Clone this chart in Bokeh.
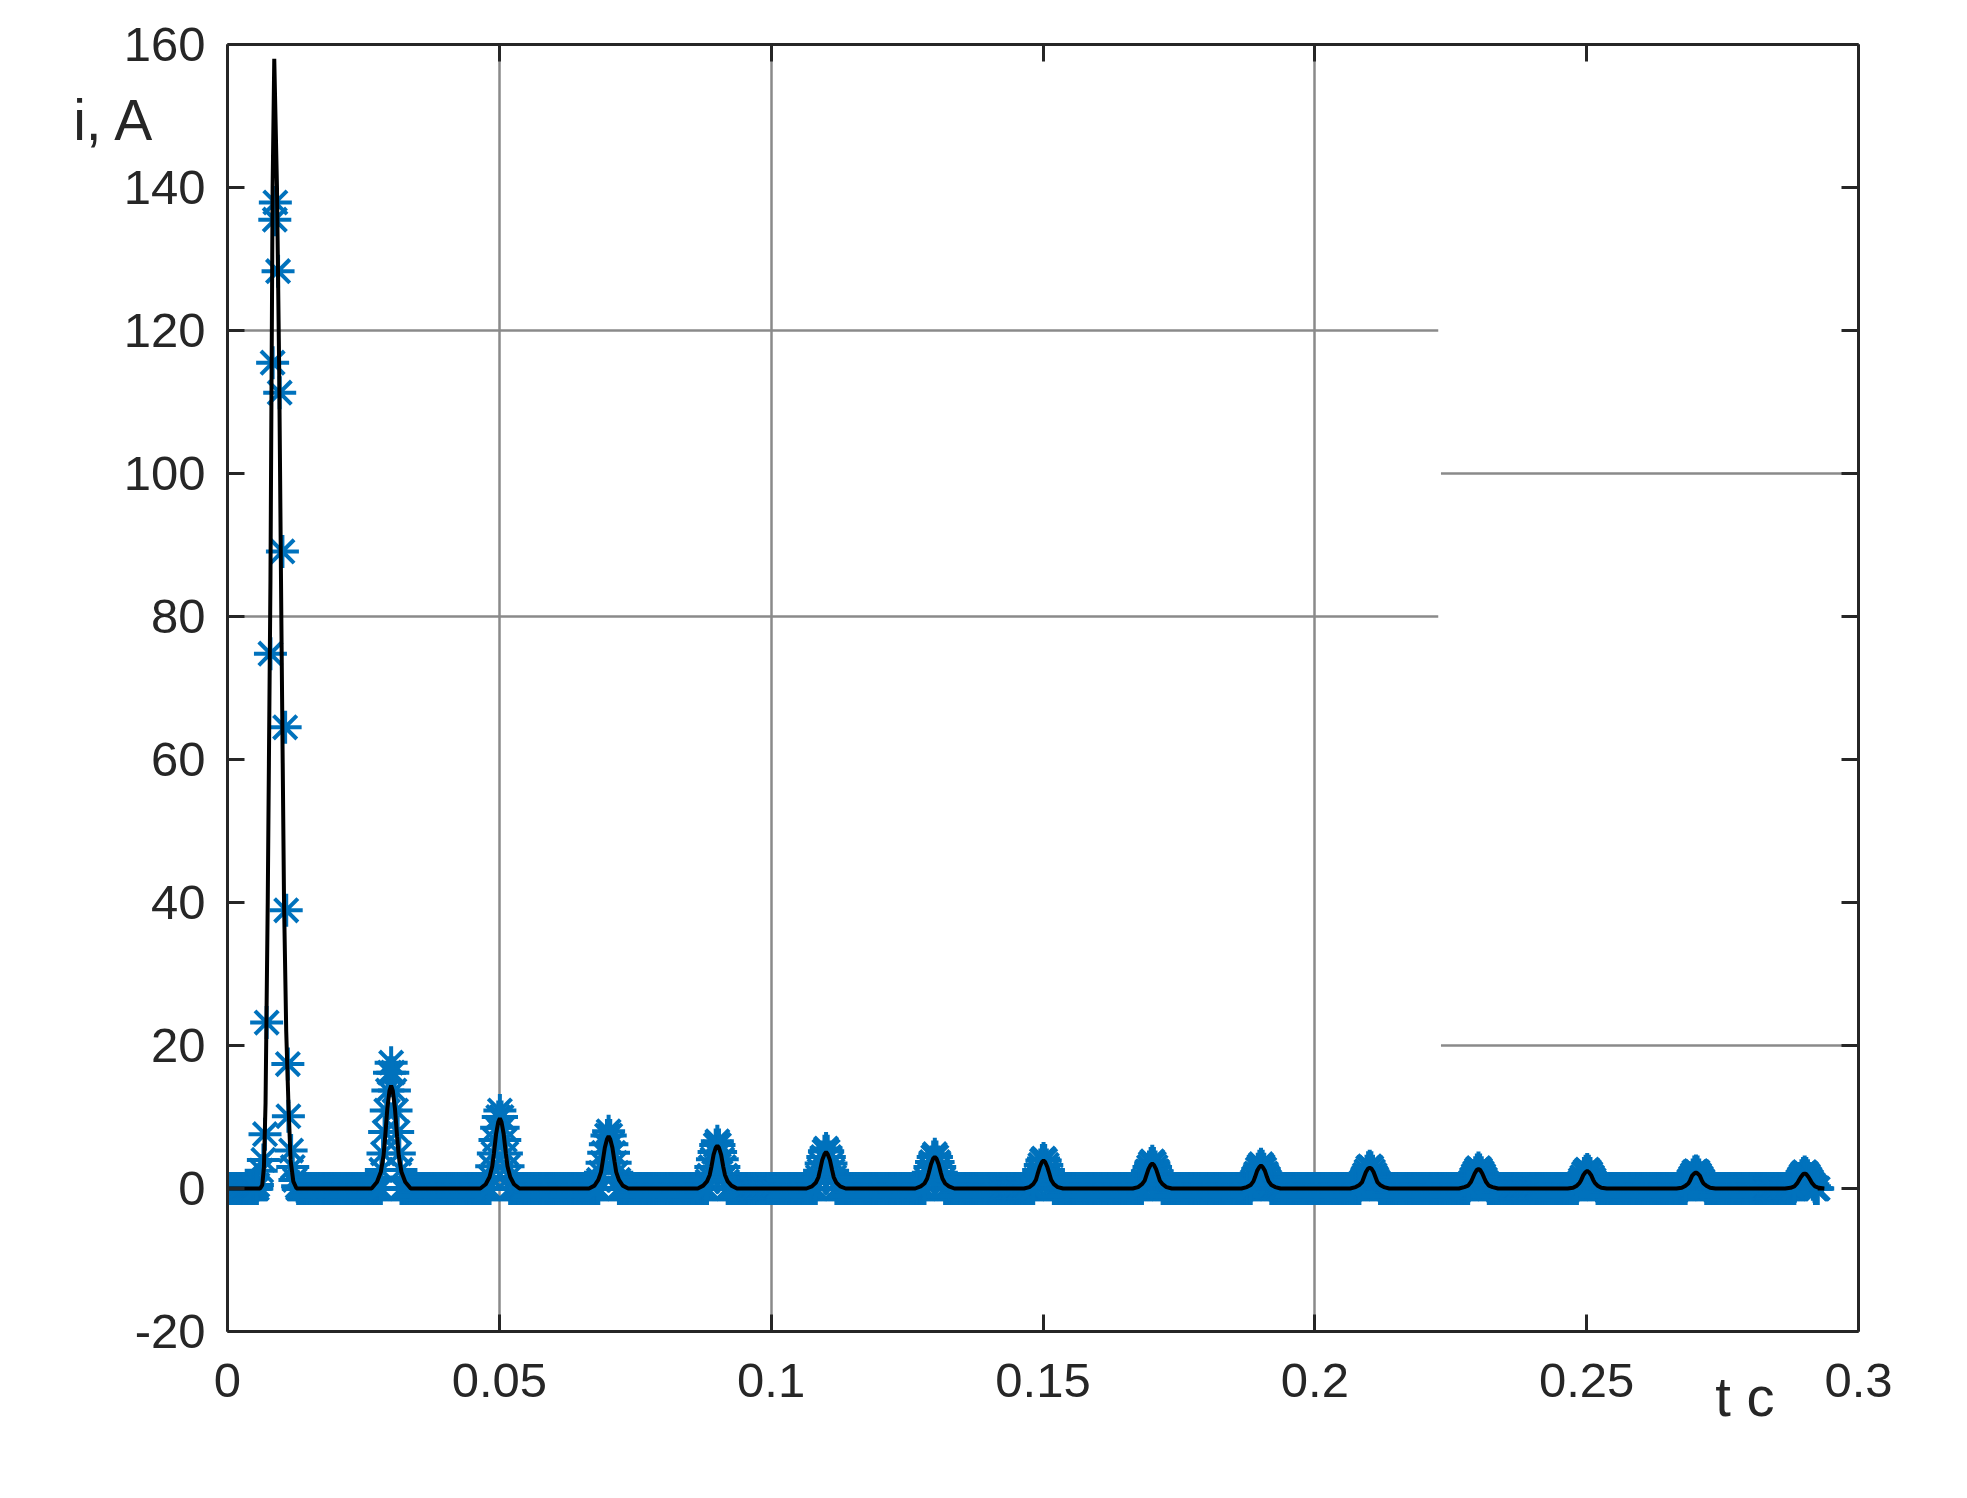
import numpy as np
from bokeh.plotting import figure
from bokeh.models import Range1d, LinearAxis, FixedTicker
from bokeh.embed import file_html
from bokeh.resources import INLINE

# ---------------- data ----------------
X_TICKS = [0, 0.05, 0.1, 0.15, 0.2, 0.25, 0.3]
X_TICK_LABELS = ["0", "0.05", "0.1", "0.15", "0.2", "0.25", "0.3"]
Y_TICKS = [-20, 0, 20, 40, 60, 80, 100, 120, 140, 160]
Y_TICK_LABELS = ["-20", "0", "20", "40", "60", "80", "100", "120", "140", "160"]

Y_CAPTION = "i, A"
X_CAPTION = "t c"

T_END = 0.2925  # last sample time

# black curve: first (large) peak
BLACK_P1_T = [0.0060, 0.0064, 0.0067, 0.0070, 0.0074, 0.0079, 0.0083, 0.0086,
              0.0091, 0.0095, 0.0099, 0.0104, 0.0108, 0.0112, 0.0116, 0.0121, 0.0127]
BLACK_P1_V = [0.0, 0.5, 3.0, 12.0, 40.0, 85.0, 140.0, 158.0,
              140.0, 115.0, 80.0, 40.0, 22.0, 12.0, 4.0, 1.0, 0.0]

# black curve: later peaks (centre times, sample offsets, values)
PEAK_T = [0.0301, 0.0501, 0.0701, 0.0901, 0.1101, 0.1301, 0.1501, 0.1701,
          0.1901, 0.2101, 0.2301, 0.2501, 0.2701, 0.2901]
BLACK_DT = [-0.0036, -0.0026, -0.0019, -0.0014, -0.0011, -0.0007, -0.0003, 0.0,
            0.0003, 0.0007, 0.0011, 0.0014, 0.0019, 0.0026, 0.0036]
BLACK_PEAKS = [
    [0, 0.9, 2.3, 4.6, 7.2, 11.2, 13.7, 14.4, 13.7, 11.2, 7.2, 4.6, 2.3, 0.9, 0],
    [0, 0.6, 1.6, 3.1, 4.9, 7.6, 9.3, 9.8, 9.3, 7.6, 4.9, 3.1, 1.6, 0.6, 0],
    [0, 0.4, 1.2, 2.3, 3.7, 5.7, 6.9, 7.3, 6.9, 5.7, 3.7, 2.3, 1.2, 0.4, 0],
    [0, 0.4, 1.0, 1.9, 3.0, 4.7, 5.7, 6.0, 5.7, 4.7, 3.0, 1.9, 1.0, 0.4, 0],
    [0, 0.3, 0.8, 1.6, 2.6, 4.0, 4.8, 5.1, 4.8, 4.0, 2.6, 1.6, 0.8, 0.3, 0],
    [0, 0.3, 0.7, 1.4, 2.2, 3.4, 4.2, 4.4, 4.2, 3.4, 2.2, 1.4, 0.7, 0.3, 0],
    [0, 0.2, 0.6, 1.2, 2.0, 3.0, 3.7, 3.9, 3.7, 3.0, 2.0, 1.2, 0.6, 0.2, 0],
    [0, 0.2, 0.6, 1.1, 1.8, 2.7, 3.3, 3.5, 3.3, 2.7, 1.8, 1.1, 0.6, 0.2, 0],
    [0, 0.2, 0.5, 1.0, 1.6, 2.5, 3.0, 3.2, 3.0, 2.5, 1.6, 1.0, 0.5, 0.2, 0],
    [0, 0.2, 0.5, 0.9, 1.5, 2.3, 2.8, 2.9, 2.8, 2.3, 1.5, 0.9, 0.5, 0.2, 0],
    [0, 0.2, 0.4, 0.9, 1.4, 2.1, 2.6, 2.7, 2.6, 2.1, 1.4, 0.9, 0.4, 0.2, 0],
    [0, 0.1, 0.4, 0.8, 1.2, 1.9, 2.3, 2.45, 2.3, 1.9, 1.2, 0.8, 0.4, 0.1, 0],
    [0, 0.1, 0.4, 0.7, 1.1, 1.8, 2.1, 2.25, 2.1, 1.8, 1.1, 0.7, 0.4, 0.1, 0],
    [0, 0.1, 0.3, 0.7, 1.1, 1.6, 2.0, 2.1, 2.0, 1.6, 1.1, 0.7, 0.3, 0.1, 0],
]

# blue asterisks: first (large) peak
BLUE_P1_T = [0.0055, 0.0062, 0.0066, 0.0069, 0.0072, 0.0079, 0.0083, 0.0087, 0.0088,
             0.0093, 0.0096, 0.0101, 0.0106, 0.0108, 0.0111, 0.0112, 0.0117, 0.0120,
             0.0124, 0.0129]
BLUE_P1_V = [0.5, 2.5, 4.0, 7.6, 23.2, 74.8, 115.5, 135.5, 137.9,
             128.3, 111.3, 89.1, 64.5, 38.9, 17.4, 10.1, 5.3, 3.0,
             1.2, 0.3]

# blue asterisks: later peaks
BLUE_DT = [-0.0018, -0.0015, -0.0012, -0.0009, -0.0006, -0.0003, 0.0,
           0.0003, 0.0006, 0.0009, 0.0012, 0.0015, 0.0018]
BLUE_PEAKS = [
    [2.6, 4.9, 7.9, 10.9, 13.7, 16.2, 17.6, 16.2, 13.7, 10.9, 7.9, 4.9, 2.6],
    [1.6, 3.1, 4.9, 6.8, 8.5, 10.0, 10.9, 10.0, 8.5, 6.8, 4.9, 3.1, 1.6],
    [1.2, 2.2, 3.6, 5.0, 6.2, 7.4, 8.0, 7.4, 6.2, 5.0, 3.6, 2.2, 1.2],
    [1.0, 1.8, 3.0, 4.1, 5.1, 6.1, 6.6, 6.1, 5.1, 4.1, 3.0, 1.8, 1.0],
    [0.8, 1.6, 2.5, 3.5, 4.4, 5.2, 5.6, 5.2, 4.4, 3.5, 2.5, 1.6, 0.8],
    [0.7, 1.3, 2.2, 3.0, 3.7, 4.4, 4.8, 4.4, 3.7, 3.0, 2.2, 1.3, 0.7],
    [0.6, 1.2, 1.9, 2.6, 3.3, 3.9, 4.2, 3.9, 3.3, 2.6, 1.9, 1.2, 0.6],
    [0.6, 1.1, 1.7, 2.4, 3.0, 3.5, 3.8, 3.5, 3.0, 2.4, 1.7, 1.1, 0.6],
    [0.5, 1.0, 1.5, 2.1, 2.7, 3.1, 3.4, 3.1, 2.7, 2.1, 1.5, 1.0, 0.5],
    [0.5, 0.9, 1.4, 1.9, 2.4, 2.9, 3.1, 2.9, 2.4, 1.9, 1.4, 0.9, 0.5],
    [0.4, 0.8, 1.3, 1.8, 2.2, 2.6, 2.85, 2.6, 2.2, 1.8, 1.3, 0.8, 0.4],
    [0.4, 0.7, 1.2, 1.6, 2.1, 2.4, 2.65, 2.4, 2.1, 1.6, 1.2, 0.7, 0.4],
    [0.4, 0.7, 1.1, 1.5, 1.9, 2.3, 2.45, 2.3, 1.9, 1.5, 1.1, 0.7, 0.4],
    [0.3, 0.6, 1.0, 1.4, 1.8, 2.1, 2.3, 2.1, 1.8, 1.4, 1.0, 0.6, 0.3],
]
BLUE_SAMPLE_STEP = 0.0001   # sampling step of the (zero-valued) baseline samples
BASELINE_VALUE = 0.0

# partial grid lines as drawn in the original figure
GRID_X = [0.05, 0.1, 0.2]
HGRID_Y = [120, 80, 100, 20]
HGRID_X0 = [0.0, 0.0, 0.2232, 0.2232]
HGRID_X1 = [0.2227, 0.2227, 0.3, 0.3]

# ---------------- build series ----------------
black_t = [0.0] + BLACK_P1_T
black_v = [0.0] + BLACK_P1_V
for c, vals in zip(PEAK_T, BLACK_PEAKS):
    black_t += [c + d for d in BLACK_DT]
    black_v += list(vals)
black_t.append(T_END)
black_v.append(0.0)

blue_t = list(BLUE_P1_T)
blue_v = list(BLUE_P1_V)
for c, vals in zip(PEAK_T, BLUE_PEAKS):
    blue_t += [c + d for d in BLUE_DT]
    blue_v += list(vals)

windows = [(BLUE_P1_T[0], BLUE_P1_T[-1])] + [(c + BLUE_DT[0], c + BLUE_DT[-1]) for c in PEAK_T]
ts = np.round(np.arange(0.0, T_END + 1e-9, BLUE_SAMPLE_STEP), 6)
mask = np.ones(len(ts), dtype=bool)
for a, b in windows:
    mask &= ~((ts > a - 0.00005) & (ts < b + 0.00005))
base_t = ts[mask]
blue_t += list(base_t)
blue_v += [BASELINE_VALUE] * len(base_t)

# ---------------- figure ----------------
FONT = "Liberation Sans"
TXT = "#262626"

p = figure(width=1940, height=1470, output_backend="svg", toolbar_location=None,
           x_range=Range1d(0, 0.3), y_range=Range1d(-20, 160),
           min_border_left=227, min_border_right=82, min_border_top=44,
           min_border_bottom=139, background_fill_color="white",
           border_fill_color="white")
p.outline_line_color = None

p.xgrid.ticker = FixedTicker(ticks=GRID_X)
p.xgrid.grid_line_color = "#8a8a8a"
p.xgrid.grid_line_width = 2.5
p.ygrid.grid_line_color = None

p.segment(x0=HGRID_X0, y0=HGRID_Y, x1=HGRID_X1, y1=HGRID_Y,
          line_color="#8a8a8a", line_width=2.5, level="underlay")

top_axis = LinearAxis()
right_axis = LinearAxis()
p.add_layout(top_axis, "above")
p.add_layout(right_axis, "right")
bottom_axis = p.below[0]
left_axis = p.left[0]

def style(ax, ticks, labels, show, standoff):
    ax.ticker = FixedTicker(ticks=ticks)
    ax.major_label_overrides = {t: (l if show else "") for t, l in zip(ticks, labels)}
    ax.axis_line_color = TXT
    ax.axis_line_width = 3
    ax.major_tick_line_color = TXT
    ax.major_tick_line_width = 3
    ax.major_tick_in = 17
    ax.major_tick_out = 0
    ax.minor_tick_line_color = None
    ax.major_label_text_font = FONT
    ax.major_label_text_font_size = "49px" if show else "1px"
    ax.major_label_text_color = TXT
    ax.major_label_standoff = standoff if show else 0

style(bottom_axis, X_TICKS, X_TICK_LABELS, True, 32)
style(top_axis, X_TICKS, X_TICK_LABELS, False, 0)
style(left_axis, Y_TICKS, Y_TICK_LABELS, True, 22)
style(right_axis, Y_TICKS, Y_TICK_LABELS, False, 0)

# caption carriers: extra axes without lines, one labelled position each
def caption_axis(pos, caption, size, standoff):
    ax = LinearAxis(ticker=FixedTicker(ticks=[pos]),
                    major_label_overrides={pos: caption})
    ax.axis_line_color = None
    ax.major_tick_line_color = None
    ax.minor_tick_line_color = None
    ax.major_label_text_font = FONT
    ax.major_label_text_font_size = size
    ax.major_label_text_color = TXT
    ax.major_label_standoff = standoff
    return ax

p.add_layout(caption_axis(149.5, Y_CAPTION, "57px", -41), "left")
p.add_layout(caption_axis(0.2791, X_CAPTION, "56px", -41), "below")

p.scatter(blue_t, blue_v, marker="asterisk", size=33, line_color="#0072BD",
          line_width=4)
p.line(black_t, black_v, line_color="black", line_width=4)

open("out.html", "w").write(file_html(p, INLINE))
